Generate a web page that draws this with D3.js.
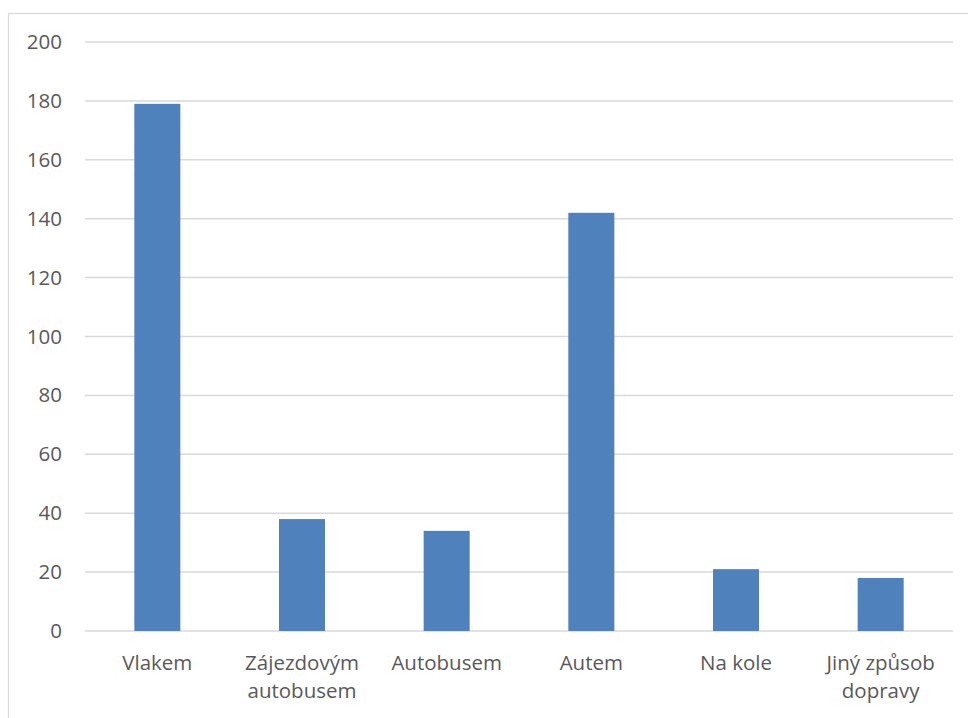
<!DOCTYPE html>
<html>
<head>
<meta charset="utf-8">
<script src="https://cdn.jsdelivr.net/npm/d3@7"></script>
<style>
  html, body { margin: 0; padding: 0; background: #fff; }
  svg { display: block; }
  text { font-family: "Open Sans", "Noto Sans", sans-serif; fill: #595959; }
</style>
</head>
<body>
<svg id="chart" width="968" height="718"></svg>
<script>
// Způsob dopravy – počty respondentů
const categories = [["Vlakem"], ["Zájezdovým", "autobusem"], ["Autobusem"], ["Autem"], ["Na kole"], ["Jiný způsob", "dopravy"]];
const values = [179, 38, 34, 142, 21, 18];
const yTicks = [0, 20, 40, 60, 80, 100, 120, 140, 160, 180, 200];

const svg = d3.select("#chart");
const W = 968, H = 718;
const plot = { left: 85, right: 953, top: 42, bottom: 631 };
const FONT = 20.5;

// chart frame
svg.append("rect")
  .attr("x", 8.5).attr("y", 13.5)
  .attr("width", W + 10).attr("height", H + 10)
  .attr("fill", "#fff").attr("stroke", "#d9d9d9").attr("stroke-width", 1.2);

const x = d3.scaleBand()
  .domain(d3.range(categories.length))
  .range([plot.left, plot.right])
  .padding(0);

const y = d3.scaleLinear()
  .domain([0, 200])
  .range([plot.bottom, plot.top]);

// horizontal gridlines
svg.append("g")
  .selectAll("line")
  .data(yTicks)
  .join("line")
  .attr("x1", plot.left).attr("x2", plot.right)
  .attr("y1", d => y(d)).attr("y2", d => y(d))
  .attr("stroke", "#d9d9d9").attr("stroke-width", 1.5);

// y-axis labels
const yAxis = d3.axisLeft(y).tickValues(yTicks).tickSize(0).tickPadding(0);
const yg = svg.append("g")
  .attr("transform", `translate(${62},0)`)
  .call(yAxis)
  .attr("font-size", FONT)
  .attr("font-family", "'Open Sans', 'Noto Sans', sans-serif");
yg.select(".domain").remove();
yg.selectAll("text")
  .attr("fill", "#595959");

// bars
const barW = x.bandwidth() * 0.318;
svg.append("g")
  .selectAll("rect")
  .data(values)
  .join("rect")
  .attr("x", (d, i) => x(i) + (x.bandwidth() - barW) / 2)
  .attr("y", d => y(d))
  .attr("width", barW)
  .attr("height", d => y(0) - y(d))
  .attr("fill", "#4f81bd");

// category labels
const labels = svg.append("g")
  .selectAll("text")
  .data(categories)
  .join("text")
  .attr("text-anchor", "middle")
  .attr("font-size", FONT)
  .attr("x", (d, i) => x(i) + x.bandwidth() / 2)
  .attr("y", 670);
labels.selectAll("tspan")
  .data(d => d)
  .join("tspan")
  .attr("x", function () { return this.parentNode.getAttribute("x"); })
  .attr("dy", (d, i) => i === 0 ? 0 : 28)
  .text(d => d);
</script>
</body>
</html>
